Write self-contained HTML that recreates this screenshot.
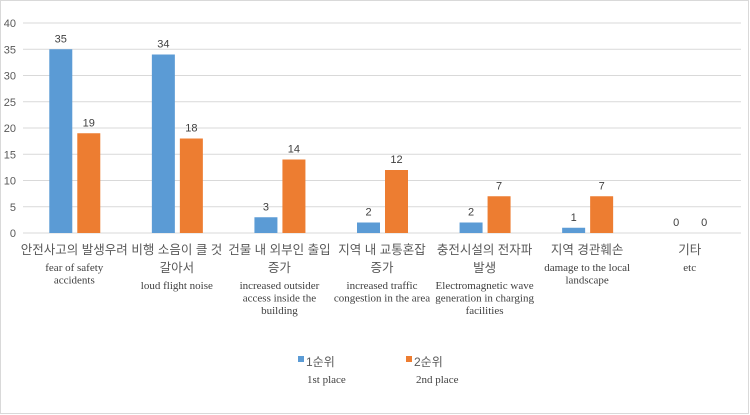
<!DOCTYPE html>
<html><head><meta charset="utf-8">
<style>
html,body{margin:0;padding:0;background:#fff;}
svg{display:block;font-family:"Liberation Sans","Noto Sans CJK KR",sans-serif;}
.kr{font-size:12.5px;fill:#595959;}
.en{font-family:"Liberation Serif","Noto Serif CJK SC",serif;font-size:11px;fill:#404040;}
.tick{font-size:11px;fill:#595959;}
.val{font-size:11px;fill:#404040;}
</style></head>
<body>
<svg id="chart" width="750" height="415">
<rect x="0.5" y="0.5" width="748" height="413" fill="#fff" stroke="#d9d9d9"/>
<g id="grid"></g><g id="bars"></g><g id="labels"></g>
<g>
 <rect x="298" y="356" width="6" height="6" fill="#5b9bd5"/>
 <text x="306" y="366" class="kr" style="font-size:12px">1순위</text>
 <text x="307" y="383" class="en">1st place</text>
 <rect x="406" y="356" width="6" height="6" fill="#ed7d31"/>
 <text x="414" y="366" class="kr" style="font-size:12px">2순위</text>
 <text x="416" y="383" class="en">2nd place</text>
</g>
</svg>
<script>
const categoriesKr = [["안전사고의 발생우려"],["비행 소음이 클 것","갈아서"],["건물 내 외부인 출입","증가"],["지역 내 교통혼잡","증가"],["충전시설의 전자파","발생"],["지역 경관훼손"],["기타"]];
const categoriesEn = [["fear of safety","accidents"],["loud flight  noise"],["increased  outsider","access inside  the","building"],["increased  traffic","congestion  in the area"],["Electromagnetic  wave","generation  in charging","facilities"],["damage  to the local","landscape"],["etc"]];
const first = [35,34,3,2,2,1,0];
const second = [19,18,14,12,7,7,0];
const yTicks = [0,5,10,15,20,25,30,35,40];
const NS="http://www.w3.org/2000/svg";
const X0=23,X1=741,Y0=233,Y1=23,YMAX=40;
const y=v=>Y0-(v/YMAX)*(Y0-Y1);
const bw=(X1-X0)/categoriesKr.length;
const cx=i=>X0+bw*(i+0.5);
function mk(tag,attrs,parent,text){const e=document.createElementNS(NS,tag);for(const k in attrs)e.setAttribute(k,attrs[k]);if(text!==undefined)e.textContent=text;parent.appendChild(e);return e;}
const grid=document.getElementById('grid'),bars=document.getElementById('bars'),labels=document.getElementById('labels');
yTicks.forEach(t=>{
 const l=mk('line',{x1:X0,x2:X1,y1:y(t),y2:y(t),stroke:'#d9d9d9','stroke-width':1},grid);
 
 
 const tx=mk('text',{x:16,y:y(t)+4,'text-anchor':'end',class:'tick'},grid,String(t));
 
 
});
const W=23;
categoriesKr.forEach((kr,i)=>{
 const c=cx(i);
 [[first[i],c-25,'#5b9bd5','first'],[second[i],c+3,'#ed7d31','second']].forEach(([v,bx,col,nm])=>{
  if(v>0){const r=mk('rect',{x:bx,y:y(v),width:W,height:Y0-y(v),fill:col},bars);
   
   }
  const t=mk('text',{x:bx+W/2,y:y(v)-7,'text-anchor':'middle',class:'val'},bars,String(v));
  
  
 });
 let ly=254;
 kr.forEach((s,j)=>{
  const t=mk('text',{x:c,y:ly,'text-anchor':'middle',class:'kr'},labels,s);
  
  
  ly+=18;
 });
 ly-=1;
 categoriesEn[i].forEach(s=>{
  const t=mk('text',{x:c,y:ly,'text-anchor':'middle',class:'en'},labels,s);
  
  
  ly+=12.5;
 });
});
</script>
</body></html>
